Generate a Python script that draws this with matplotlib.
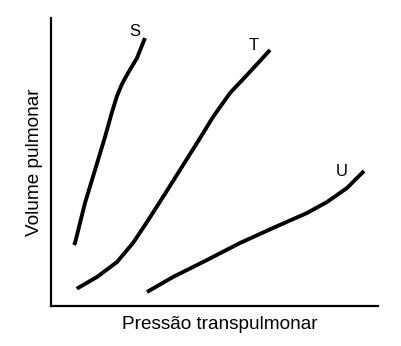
import matplotlib
matplotlib.use("Agg")
import matplotlib.pyplot as plt

plt.rcParams['font.family'] = ['Liberation Sans', 'DejaVu Sans']

# curve S
s_x = [23, 24, 29, 34, 44, 54, 61, 66, 71, 77, 86, 94]
s_y = [61, 63, 83, 103, 136, 169, 194, 210, 222, 233, 248, 268]
# curve T
t_x = [26, 27, 46, 66, 82, 96, 112, 129, 146, 162, 179, 196, 208, 219]
t_y = [17, 18, 29, 44, 63, 84, 109, 136, 163, 189, 213, 231, 244, 256]
# curve U
u_x = [96, 122, 156, 189, 222, 256, 276, 296, 313]
u_y = [14, 29, 46, 63, 78, 93, 104, 118, 135]

labels = ['S', 'T', 'U']

fig = plt.figure(figsize=(4.02, 3.46), dpi=100)
ax = fig.add_axes([51 / 402, 40 / 346, 327 / 402, 288 / 346])

for xs, ys in [(s_x, s_y), (t_x, t_y), (u_x, u_y)]:
    ax.plot(xs, ys, color='black', lw=2.8, solid_capstyle='butt', solid_joinstyle='round')

ax.text(84, 274, labels[0], fontsize=12, ha='center', va='center')
ax.text(203, 261, labels[1], fontsize=12, ha='center', va='center')
ax.text(291, 134, labels[2], fontsize=12, ha='center', va='center')

ax.set_xlim(0, 327)
ax.set_ylim(0, 288)
ax.spines['top'].set_visible(False)
ax.spines['right'].set_visible(False)
ax.spines['left'].set_linewidth(1.6)
ax.spines['bottom'].set_linewidth(1.6)
ax.set_xticks([])
ax.set_yticks([])
ax.set_xlabel('Pressão transpulmonar', fontsize=13.7, labelpad=6)
ax.set_ylabel('Volume pulmonar', fontsize=13.7, labelpad=6)
ax.xaxis.set_label_coords(0.515, -0.035, transform=ax.transAxes)
ax.xaxis.label.set_va('top')

fig.savefig('out.png', dpi=100)
